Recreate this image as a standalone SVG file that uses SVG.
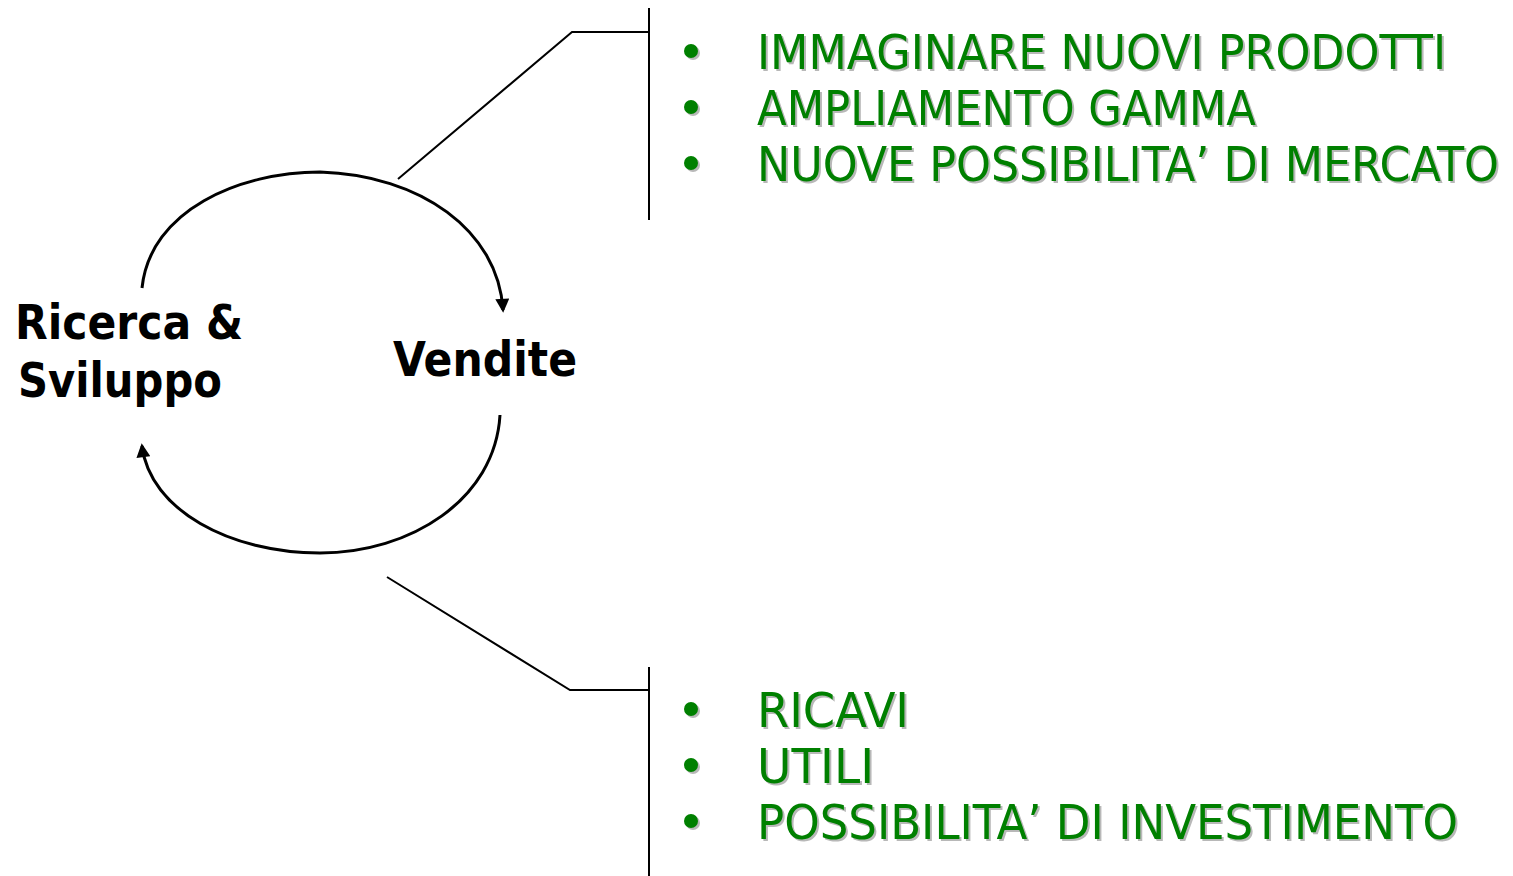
<svg xmlns="http://www.w3.org/2000/svg" width="1513" height="876" viewBox="0 0 1513 876">
<defs>
<marker id="ah" viewBox="0 0 10 10" refX="8" refY="5" markerWidth="16" markerHeight="14" markerUnits="userSpaceOnUse" orient="auto">
<path d="M0,0 L10,5 L0,10 z" fill="#000"/>
</marker>
<style>
.lbl{font-family:"DejaVu Sans","Liberation Sans",sans-serif;font-weight:bold;font-size:48px;fill:#000}
.g{font-family:"DejaVu Sans Condensed","DejaVu Sans","Liberation Sans",sans-serif;font-size:48px;fill:#008000}
.sh{font-family:"DejaVu Sans Condensed","DejaVu Sans","Liberation Sans",sans-serif;font-size:48px;fill:#b8b8b8}
.ln{stroke:#000;stroke-width:2;fill:none}
.arc{stroke:#000;stroke-width:3;fill:none}
</style>
</defs>
<rect width="1513" height="876" fill="#fff"/>
<g id="connectors">
<path class="arc" d="M142,288 C150,210 240,172 320,172 C420,175 498,230 503,310" marker-end="url(#ah)"/>
<path class="arc" d="M500,415 C495,500 410,553 320,553 C230,553 150,510 142,446" marker-end="url(#ah)"/>
<polyline class="ln" points="398,179 572,32 649,32"/>
<line class="ln" x1="649" y1="8" x2="649" y2="220"/>
<polyline class="ln" points="387,577 570,690 649,690"/>
<line class="ln" x1="649" y1="667" x2="649" y2="876"/>
</g>
<g id="node-rs">
<text class="lbl" x="15" y="339" textLength="228" lengthAdjust="spacingAndGlyphs">Ricerca &amp;</text>
<text class="lbl" x="18" y="397" textLength="204" lengthAdjust="spacingAndGlyphs">Sviluppo</text>
</g>
<g id="node-vendite">
<text class="lbl" x="393" y="376" textLength="184" lengthAdjust="spacingAndGlyphs">Vendite</text>
</g>
<g id="list-top">
<circle cx="693" cy="53" r="7" fill="#b8b8b8"/><circle cx="691" cy="51" r="7" fill="#008000"/>
<circle cx="693" cy="109" r="7" fill="#b8b8b8"/><circle cx="691" cy="107" r="7" fill="#008000"/>
<circle cx="693" cy="165" r="7" fill="#b8b8b8"/><circle cx="691" cy="163" r="7" fill="#008000"/>
<text class="sh" x="759" y="71" textLength="689" lengthAdjust="spacingAndGlyphs">IMMAGINARE NUOVI PRODOTTI</text>
<text class="g" x="757" y="69" textLength="689" lengthAdjust="spacingAndGlyphs">IMMAGINARE NUOVI PRODOTTI</text>
<text class="sh" x="759" y="127" textLength="499" lengthAdjust="spacingAndGlyphs">AMPLIAMENTO GAMMA</text>
<text class="g" x="757" y="125" textLength="499" lengthAdjust="spacingAndGlyphs">AMPLIAMENTO GAMMA</text>
<text class="sh" x="759" y="183" textLength="742" lengthAdjust="spacingAndGlyphs">NUOVE POSSIBILITA’ DI MERCATO</text>
<text class="g" x="757" y="181" textLength="742" lengthAdjust="spacingAndGlyphs">NUOVE POSSIBILITA’ DI MERCATO</text>
</g>
<g id="list-bottom">
<circle cx="693" cy="711" r="7" fill="#b8b8b8"/><circle cx="691" cy="709" r="7" fill="#008000"/>
<circle cx="693" cy="767" r="7" fill="#b8b8b8"/><circle cx="691" cy="765" r="7" fill="#008000"/>
<circle cx="693" cy="823" r="7" fill="#b8b8b8"/><circle cx="691" cy="821" r="7" fill="#008000"/>
<text class="sh" x="759" y="729" textLength="152" lengthAdjust="spacingAndGlyphs">RICAVI</text>
<text class="g" x="757" y="727" textLength="152" lengthAdjust="spacingAndGlyphs">RICAVI</text>
<text class="sh" x="759" y="785" textLength="117" lengthAdjust="spacingAndGlyphs">UTILI</text>
<text class="g" x="757" y="783" textLength="117" lengthAdjust="spacingAndGlyphs">UTILI</text>
<text class="sh" x="759" y="841" textLength="701" lengthAdjust="spacingAndGlyphs">POSSIBILITA’ DI INVESTIMENTO</text>
<text class="g" x="757" y="839" textLength="701" lengthAdjust="spacingAndGlyphs">POSSIBILITA’ DI INVESTIMENTO</text>
</g>
</svg>
